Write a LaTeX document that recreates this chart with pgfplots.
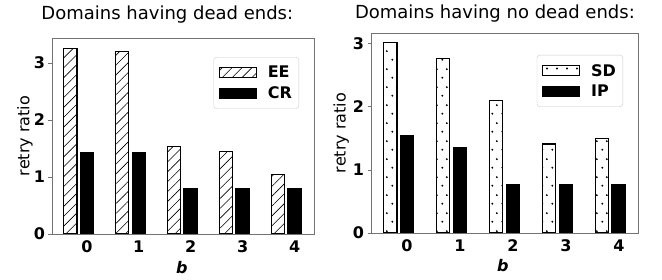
\documentclass[border=0pt]{standalone}
\usepackage{pgfplots}
\pgfplotsset{compat=1.18}
\usepackage{fontspec}
\setmainfont{DejaVu Sans}
\usetikzlibrary{patterns,patterns.meta}
\newcommand\fs{\fontsize{16pt}{19pt}\selectfont}
\newcommand\ft{\fontsize{18pt}{21pt}\selectfont}
\pgfdeclarepatternformonly{sddots}{\pgfqpoint{0pt}{0pt}}{\pgfqpoint{10pt}{18pt}}{\pgfqpoint{10pt}{18pt}}{%
  \pgfpathcircle{\pgfqpoint{2.5pt}{4.5pt}}{1.1pt}%
  \pgfpathcircle{\pgfqpoint{7.5pt}{13.5pt}}{1.1pt}%
  \pgfusepath{fill}}
\pgfplotsset{
  myax/.style={
    scale only axis,
    axis on top,
    axis line style={black!55, line width=0.8pt},
    xtick={0,1,2,3,4},
    xticklabels={0,1,2,3,4},
    xtick style={draw=none},
    ytick={0,1,2,3},
    ytick pos=left,
    ytick style={black!55, line width=0.8pt},
    tick align=outside,
    major tick length=3.5pt,
    tick label style={font=\fs\bfseries},
    /pgf/number format/assume math mode=true,
    ymin=0,
    legend image code/.code={\draw[##1, sharp corners] (0pt,-5pt) rectangle (37pt,5pt);},
    legend style={draw=black!20, rounded corners=3pt, font=\fs\bfseries,
      inner xsep=5pt, inner ysep=7pt, row sep=3pt,
      /tikz/every odd column/.append style={column sep=9pt}},
    legend cell align=left,
    ylabel={retry ratio},
    xlabel={\bfseries\itshape b},
    every axis label/.append style={font=\fs},
    every axis title/.style={font=\ft, inner sep=0pt, anchor=base},
  },
  bars/.style={ybar, bar width=0.26, draw=black, line width=1.1pt},
}
\begin{document}
\begin{tikzpicture}[x=1pt,y=1pt]
\path[use as bounding box] (0,0) rectangle (662,280);
\begin{axis}[myax,
  at={(52pt,46pt)}, anchor=south west,
  width=262pt, height=196pt,
  xmin=-0.67, xmax=4.37, ymax=3.44,
  title={Domains having dead ends:},
  title style={at={(axis description cs:0.44,1.092)}},
  ylabel style={at={(axis description cs:-0.103,0.5)}, anchor=center},
  xlabel style={at={(axis description cs:0.496,-0.199)}, anchor=base, inner sep=0pt},
  legend style={at={(axis description cs:0.943,0.903)}, anchor=north east},
]
\addplot[bars, bar shift=-0.32, pattern={Lines[angle=45,distance=7pt,line width=0.6pt]}]
  coordinates {(0,3.26) (1,3.21) (2,1.53) (3,1.44) (4,1.05)};
\addplot[bars, bar shift=0, fill=black]
  coordinates {(0,1.43) (1,1.43) (2,0.80) (3,0.80) (4,0.80)};
\legend{EE,CR}
\end{axis}
\begin{axis}[myax,
  at={(371pt,47pt)}, anchor=south west,
  width=267pt, height=200pt,
  xmin=-0.68, xmax=4.36, ymax=3.17,
  title={Domains having no dead ends:},
  title style={at={(axis description cs:0.464,1.07)}},
  ylabel style={at={(axis description cs:-0.112,0.5)}, anchor=center},
  xlabel style={at={(axis description cs:0.494,-0.195)}, anchor=base, inner sep=0pt},
  legend style={at={(axis description cs:0.944,0.89)}, anchor=north east},
]
\addplot[bars, bar shift=-0.32, pattern=sddots]
  coordinates {(0,3.02) (1,2.77) (2,2.10) (3,1.41) (4,1.50)};
\addplot[bars, bar shift=0, fill=black]
  coordinates {(0,1.55) (1,1.36) (2,0.77) (3,0.77) (4,0.77)};
\legend{SD,IP}
\end{axis}
\end{tikzpicture}
\end{document}
